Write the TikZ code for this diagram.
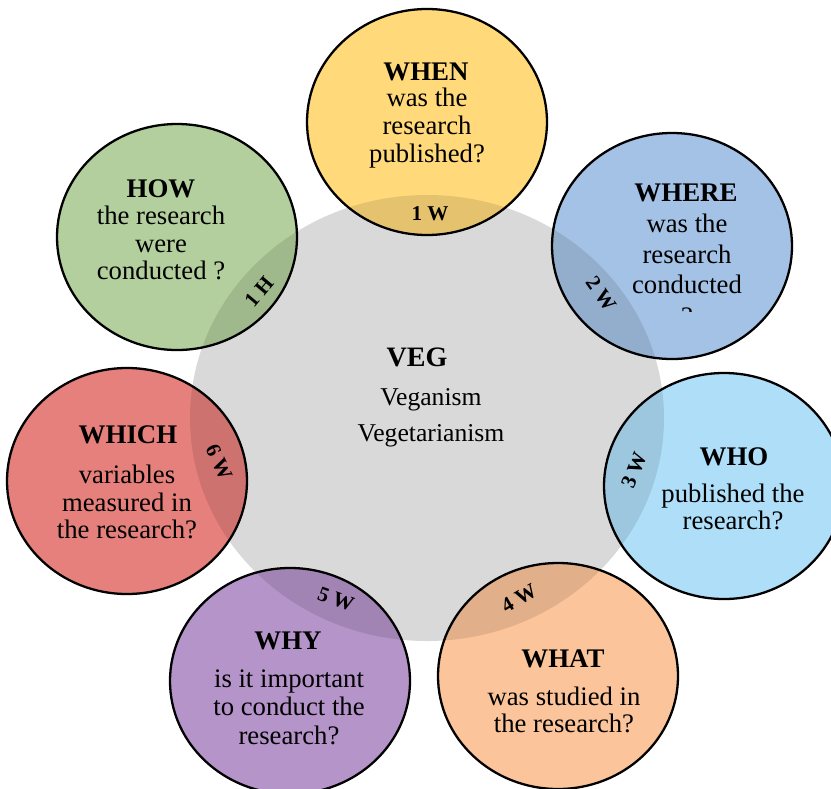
\documentclass[tikz,border=0pt]{standalone}
\usepackage{fontspec}
\setmainfont{Liberation Serif}
\usepackage{tikz}
\usepackage{xcolor}
\definecolor{cveg}{HTML}{D9D9D9}
\definecolor{cwhen}{HTML}{FFD97A}
\definecolor{cwhere}{HTML}{A4C2E5}
\definecolor{cwho}{HTML}{AFDEF9}
\definecolor{cwhat}{HTML}{FBC49A}
\definecolor{cwhy}{HTML}{B594C9}
\definecolor{cwhich}{HTML}{E5807C}
\definecolor{chow}{HTML}{B3CF9D}

\begin{document}
\begin{tikzpicture}[x=0.02cm, y=-0.02cm,
    bsize/.style={x radius=120, y radius=113},
    vsize/.style={x radius=237, y radius=223},
    bubble/.style={draw=black, line width=1.3pt},
    head/.style={font=\bfseries\fontsize{15.3}{16}\selectfont},
    body/.style={align=center, font=\fontsize{15.2}{15.8}\selectfont},
    wlabel/.style={inner sep=0pt, font=\bfseries\fontsize{12}{13}\selectfont}]
    \path[use as bounding box, fill=white] (0,0) rectangle (831,788);
    % Centros
    \coordinate (veg) at (427,418);
    \coordinate (when) at (427,122);
    \coordinate (where) at (672,246);
    \coordinate (who) at (724,486);
    \coordinate (what) at (558,676);
    \coordinate (why) at (290,681);
    \coordinate (which) at (127,481);
    \coordinate (how) at (177,237);
    % Círculo central
    \fill[cveg] (veg) ellipse [vsize];
    % Bolhas
    \fill[cwhen] (when) ellipse [bsize];
    \fill[cwhere] (where) ellipse [bsize];
    \fill[cwho] (who) ellipse [bsize];
    \fill[cwhat] (what) ellipse [bsize];
    \fill[cwhy] (why) ellipse [bsize];
    \fill[cwhich] (which) ellipse [bsize];
    \fill[chow] (how) ellipse [bsize];
    % Intersecções
    \begin{scope}
        \clip (veg) ellipse [vsize];
        \fill[black, opacity=0.1] (when) ellipse [bsize] (where) ellipse [bsize]
            (who) ellipse [bsize] (what) ellipse [bsize] (why) ellipse [bsize]
            (which) ellipse [bsize] (how) ellipse [bsize];
    \end{scope}
    \foreach \c in {when,where,who,what,why,which,how}
        \draw[bubble] (\c) ellipse [bsize];
    % Textos
    \node[head, font=\bfseries\fontsize{16}{17}\selectfont] (vegT) at (417,357) {VEG};
    \node[body, font=\fontsize{14.6}{20.5}\selectfont] (vegB) at (431,418) {Veganism\\Vegetarianism};
    \node[head] (whenT) at (426,72) {WHEN};
    \node[body] (whenB) at (427,128) {was the\\research\\published?};
    \node[head] (whereT) at (686,193) {WHERE};
    \node[body, font=\fontsize{15.2}{17.4}\selectfont] (whereB) at (687,254) {was the\\research\\conducted};
    \begin{scope}
        \clip (560,300) rectangle (800,311);
        \node[body] (whereQ) at (687,317) {?};
    \end{scope}
    \node[head] (whoT) at (734,457) {WHO};
    \node[body] (whoB) at (733,507) {published the\\research?};
    \node[head] (whatT) at (563,659) {WHAT};
    \node[body] (whatB) at (564,710) {was studied in\\the research?};
    \node[head] (whyT) at (288,641) {WHY};
    \node[body, font=\fontsize{15.2}{16.2}\selectfont] (whyB) at (289,707) {is it important\\to conduct the\\research?};
    \node[head] (whichT) at (128,435) {WHICH};
    \node[body] (whichB) at (127,502) {variables\\measured in\\the research?};
    \node[head] (howT) at (161,189) {HOW};
    \node[body] (howB) at (161,243) {the research\\were\\conducted ?};
    % Rótulos
    \node[wlabel] (w1) at (430,214) {1 W};
    \node[wlabel, rotate=-55] (w2) at (601,294) {2 W};
    \node[wlabel, rotate=68] (w3) at (634,470) {3 W};
    \node[wlabel, rotate=30] (w4) at (519,598) {4 W};
    \node[wlabel, rotate=-20] (w5) at (336,599) {5 W};
    \node[wlabel, rotate=-65] (w6) at (219,462) {6 W};
    \node[wlabel, rotate=50] (h1) at (259,292) {1 H};
\end{tikzpicture}
\end{document}
